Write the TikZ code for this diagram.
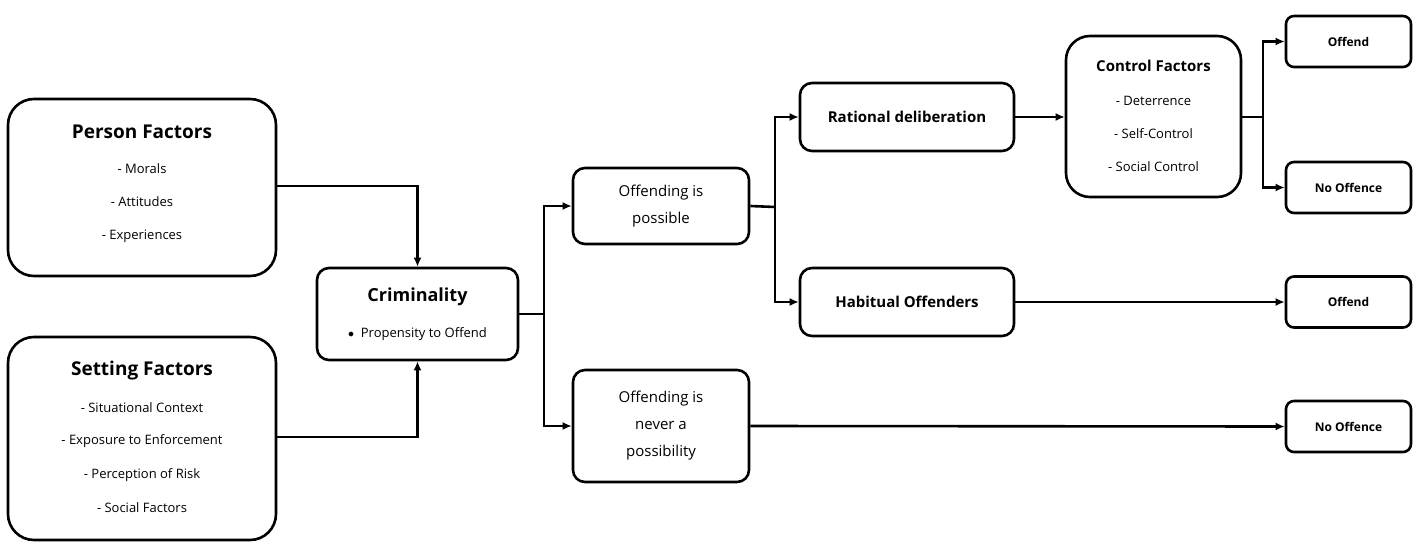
\documentclass[tikz,border=0pt]{standalone}
\usepackage{fontspec}
\setmainfont{Open Sans}
\usetikzlibrary{arrows.meta}
\begin{document}
\begin{tikzpicture}[x=1pt,y=-1pt,
  box/.style={draw,line width=2.6pt,rounded corners=#1,inner sep=0pt,align=center},
  box/.default=12pt,
  con/.style={line width=2.6pt,-{Latex[length=9pt,width=8pt]}},
  ln/.style={line width=2.6pt},
  it/.style={font=\fontsize{13}{16}\selectfont}]
\useasboundingbox (0,0) rectangle (1423,551);
\node[box=26pt,minimum width=268pt,minimum height=177pt] (pf) at (142,187.5) {};
\node[font=\fontsize{19}{22}\selectfont\bfseries] at (142,132) {Person Factors};
\node[it] at (142,169) {- Morals};
\node[it] at (142,202) {- Attitudes};
\node[it] at (142,236) {- Experiences};
\node[box=26pt,minimum width=268pt,minimum height=203pt] (sf) at (142,438.5) {};
\node[font=\fontsize{19}{22}\selectfont\bfseries] at (142,371) {Setting Factors};
\node[it] at (142,408) {- Situational Context};
\node[it] at (142,441) {- Exposure to Enforcement};
\node[it] at (142,475) {- Perception of Risk};
\node[it] at (142,508) {- Social Factors};
\node[box,minimum width=201pt,minimum height=92pt] (cr) at (417.5,314) {};
\node[font=\fontsize{18}{22}\selectfont\bfseries] at (417.5,297) {Criminality};
\node[it] at (417.5,334) {$\bullet$\ \ Propensity to Offend};
\node[box,minimum width=176pt,minimum height=76pt,font=\fontsize{15}{27}\selectfont] (op) at (661,206) {Offending is\\possible};
\node[box,minimum width=176pt,minimum height=112pt,font=\fontsize{15}{27}\selectfont] (on) at (661,426) {Offending is\\never a\\possibility};
\node[box,minimum width=214pt,minimum height=68pt,font=\fontsize{15}{18}\selectfont\bfseries] (rd) at (907,117) {Rational deliberation};
\node[box,minimum width=214pt,minimum height=68pt,font=\fontsize{15}{18}\selectfont\bfseries] (ho) at (907,302) {Habitual Offenders};
\node[box=24pt,minimum width=175pt,minimum height=161pt] (cf) at (1153.5,116.5) {};
\node[font=\fontsize{15}{18}\selectfont\bfseries] at (1153.5,66) {Control Factors};
\node[it] at (1153.5,101) {- Deterrence};
\node[it] at (1153.5,134) {- Self-Control};
\node[it] at (1153.5,167) {- Social Control};
\tikzset{ob/.style={box=8pt,minimum width=125pt,minimum height=51pt,font=\fontsize{12}{14}\selectfont\bfseries}}
\node[ob] (o1) at (1348.5,41.5) {Offend};
\node[ob] (n1) at (1348.5,187.5) {No Offence};
\node[ob] (o2) at (1348.5,302) {Offend};
\node[ob] (n2) at (1348.5,426.5) {No Offence};
\draw[con] (pf.east|-0,186) -| (cr.north);
\draw[con] (sf.east|-0,437) -| (cr.south);
\coordinate (j1) at (544,314);
\draw[ln] (cr.east) -- (j1);
\draw[con] (j1) |- (op.west);
\draw[con] (j1) |- (on.west);
\coordinate (j2) at (775,207);
\draw[ln] (op.east) -- (j2);
\draw[con] (j2) |- (rd.west);
\draw[con] (j2) |- (ho.west);
\draw[con] (rd.east) -- (cf.west|-rd.east);
\coordinate (j3) at (1263,117);
\draw[ln] (cf.east|-j3) -- (j3);
\draw[con] (j3) |- (o1.west);
\draw[con] (j3) |- (n1.west);
\draw[con] (ho.east) -- (o2.west);
\draw[con] (on.east) -- (n2.west);
\end{tikzpicture}
\end{document}
